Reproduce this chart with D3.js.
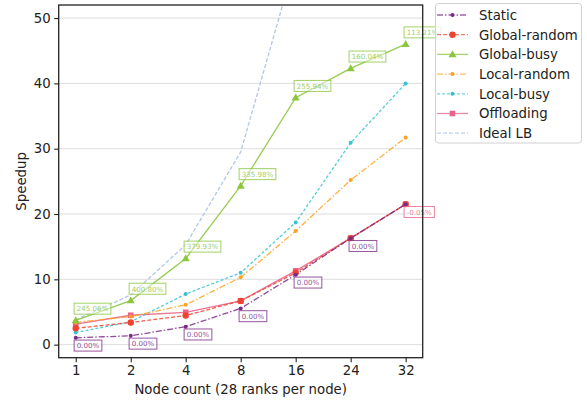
<!DOCTYPE html>
<html>
<head>
<meta charset="utf-8">
<script src="https://cdn.jsdelivr.net/npm/d3@7"></script>
<style>
  body { margin: 0; background: #fff; }
  svg { font-family: "DejaVu Sans", sans-serif; }
</style>
</head>
<body>
<div id="chart"></div>
<script>
// node counts (categorical x axis)
var nodes = ["1", "2", "4", "8", "16", "24", "32"];
var yTicks = [0, 10, 20, 30, 40, 50];

// speedup per strategy
var staticVals    = [1.05, 1.35, 2.75, 5.55, 10.7, 16.3, 21.5];
var globalRandom  = [2.5, 3.4, 4.45, 6.7, 11.0, 16.3, 21.5];
var globalBusy    = [3.7, 6.75, 13.2, 24.3, 37.8, 42.3, 46.0];
var localRandom   = [3.4, 4.3, 6.1, 10.3, 17.4, 25.2, 31.7];
var localBusy     = [1.85, 3.5, 7.75, 11.0, 18.7, 30.9, 40.0];
var offloading    = [3.15, 4.5, 4.95, 6.7, 11.3, 16.3, 21.5];
var idealLB       = [3.8, 7.6, 15.3, 29.5, 59, 88, 117];

// annotations (improvement over static)
var busyNotes    = ["245.06%", "400.80%", "379.93%", "335.98%", "255.94%", "160.04%", "113.21%"];
var staticNotes  = ["0.00%", "0.00%", "0.00%", "0.00%", "0.00%", "0.00%", null];
var offloadNotes = [null, null, null, null, null, null, "-0.05%"];

var series = [
  {name: "Static",        values: staticVals,   color: "#7b2a86", dash: "6,2,1.5,2", marker: "dot",    lineOpacity: 0.85},
  {name: "Global-random", values: globalRandom, color: "#f0432f", dash: "4,2",       marker: "circle", lineOpacity: 0.85},
  {name: "Global-busy",   values: globalBusy,   color: "#8cc63f", dash: null,        marker: "tri",    lineOpacity: 0.9},
  {name: "Local-random",  values: localRandom,  color: "#ffa21f", dash: "6,2,1.5,2", marker: "dot",    lineOpacity: 0.85},
  {name: "Local-busy",    values: localBusy,    color: "#35c3d3", dash: "3,2",       marker: "dot",    lineOpacity: 0.85},
  {name: "Offloading",    values: offloading,   color: "#e8648a", dash: null,        marker: "square", lineOpacity: 0.9},
  {name: "Ideal LB",      values: idealLB,      color: "#a9c0e6", dash: "4,2",       marker: null,     lineOpacity: 0.9}
];

var W = 587, H = 402;
var plot = {left: 58.7, right: 422.7, top: 5, bottom: 357.7};

var svg = d3.select("#chart").append("svg")
  .attr("width", W).attr("height", H);

var x = d3.scalePoint()
  .domain(nodes)
  .range([plot.left, plot.right])
  .padding(0.31);

var y = d3.scaleLinear()
  .domain([-2, 52])
  .range([plot.bottom, plot.top]);

// grid
svg.append("g").selectAll("line")
  .data(yTicks).enter()
  .append("line")
  .attr("x1", plot.left).attr("x2", plot.right)
  .attr("y1", d => y(d)).attr("y2", d => y(d))
  .attr("stroke", "#dddddd").attr("stroke-width", 1);

svg.append("clipPath").attr("id", "clip")
  .append("rect")
  .attr("x", plot.left).attr("y", plot.top)
  .attr("width", plot.right - plot.left).attr("height", plot.bottom - plot.top);

var line = d3.line()
  .x((d, i) => x(nodes[i]))
  .y(d => y(d));

function drawMarker(g, type, cx, cy, color) {
  if (type == "dot") {
    g.append("circle").attr("cx", cx).attr("cy", cy).attr("r", 2).attr("fill", color);
  } else if (type == "circle") {
    g.append("circle").attr("cx", cx).attr("cy", cy).attr("r", 3.2).attr("fill", color);
  } else if (type == "tri") {
    g.append("path")
      .attr("d", d3.symbol().type(d3.symbolTriangle).size(28))
      .attr("transform", `translate(${cx},${cy + 0.5})`)
      .attr("fill", color);
  } else if (type == "square") {
    g.append("rect").attr("x", cx - 2.8).attr("y", cy - 2.8)
      .attr("width", 5.6).attr("height", 5.6).attr("fill", color);
  }
}

var lines = svg.append("g").attr("clip-path", "url(#clip)");
// draw back to front: ideal first
series.slice().reverse().forEach(function(s) {
  var g = lines.append("g");
  g.append("path")
    .attr("d", line(s.values))
    .attr("fill", "none")
    .attr("stroke", s.color)
    .attr("stroke-width", 1.3)
    .attr("stroke-opacity", s.lineOpacity)
    .attr("stroke-dasharray", s.dash);
  if (s.marker) {
    s.values.forEach(function(v, i) {
      drawMarker(g, s.marker, x(nodes[i]), y(v), s.color);
    });
  }
});

// annotation boxes
function note(txt, px, py, color, above) {
  if (!txt) return;
  var g = svg.append("g");
  var t = g.append("text")
    .attr("x", px + 1)
    .attr("y", above ? py - 9 : py + 10.5)
    .attr("font-size", 7.1)
    .attr("fill", color)
    .attr("fill-opacity", 0.85)
    .text(txt);
  var w = t.node().getComputedTextLength();
  g.insert("rect", "text")
    .attr("x", px - 1.6)
    .attr("y", above ? py - 17.3 : py + 2.3)
    .attr("width", w + 5.2)
    .attr("height", 11)
    .attr("fill", "#fff").attr("fill-opacity", 0.5)
    .attr("stroke", color).attr("stroke-opacity", 0.8)
    .attr("stroke-width", 1);
}

busyNotes.forEach((n, i) => note(n, x(nodes[i]), y(globalBusy[i]), "#8cc63f", true));
staticNotes.forEach((n, i) => note(n, x(nodes[i]), y(staticVals[i]), "#7b2a86", false));
offloadNotes.forEach((n, i) => note(n, x(nodes[i]), y(offloading[i]), "#e8648a", false));

// frame
svg.append("rect")
  .attr("x", plot.left).attr("y", plot.top)
  .attr("width", plot.right - plot.left).attr("height", plot.bottom - plot.top)
  .attr("fill", "none").attr("stroke", "#222").attr("stroke-width", 1.3);

// axes
var xAxis = svg.append("g")
  .attr("transform", `translate(0,${plot.bottom})`)
  .call(d3.axisBottom(x).tickSize(4.5).tickPadding(3.5));
var yAxis = svg.append("g")
  .attr("transform", `translate(${plot.left},0)`)
  .call(d3.axisLeft(y).tickValues(yTicks).tickSize(4.5).tickPadding(3.5));

[xAxis, yAxis].forEach(function(a) {
  a.select(".domain").remove();
  a.selectAll("line").attr("stroke", "#222").attr("stroke-width", 1.1);
  a.selectAll("text").attr("font-size", 13.3).attr("fill", "#222")
    .attr("font-family", "DejaVu Sans");
});

svg.append("text")
  .attr("x", (plot.left + plot.right) / 2)
  .attr("y", 394)
  .attr("text-anchor", "middle")
  .attr("font-size", 13.3).attr("fill", "#222")
  .text("Node count (28 ranks per node)");

svg.append("text")
  .attr("transform", `translate(25.5,${(plot.top + plot.bottom) / 2}) rotate(-90)`)
  .attr("text-anchor", "middle")
  .attr("font-size", 13.3).attr("fill", "#222")
  .text("Speedup");

// legend
var legend = svg.append("g");
legend.append("rect")
  .attr("x", 435.5).attr("y", 3.5)
  .attr("width", 146).attr("height", 139.5)
  .attr("rx", 3)
  .attr("fill", "#fff").attr("fill-opacity", 0.8)
  .attr("stroke", "#d0d0d0").attr("stroke-width", 1);

series.forEach(function(s, i) {
  var ly = 15 + i * 19.7;
  var g = legend.append("g");
  g.append("line")
    .attr("x1", 437).attr("x2", 468)
    .attr("y1", ly).attr("y2", ly)
    .attr("stroke", s.color)
    .attr("stroke-width", 1.3)
    .attr("stroke-opacity", s.lineOpacity * 0.85)
    .attr("stroke-dasharray", s.dash);
  if (s.marker) drawMarker(g, s.marker, 452.5, ly, s.color);
  g.append("text")
    .attr("x", 479).attr("y", ly + 4.8)
    .attr("font-size", 13.3).attr("fill", "#222")
    .text(s.name);
});
</script>
</body>
</html>
